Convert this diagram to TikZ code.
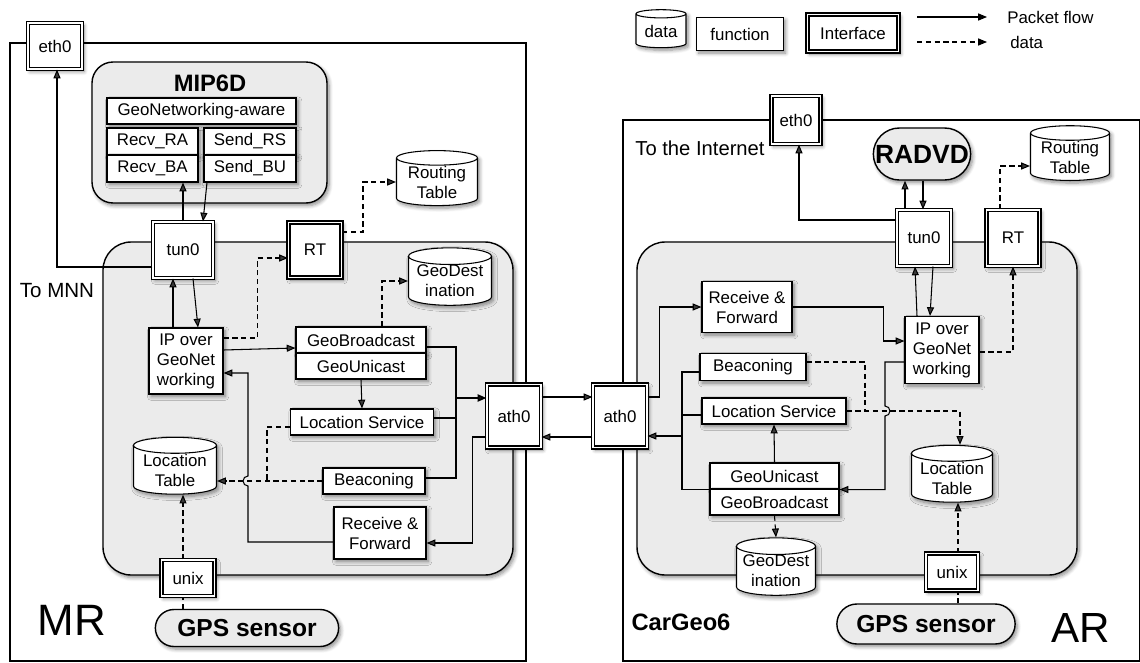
\documentclass[tikz,border=0pt]{standalone}
\usepackage{fontspec}
\setmainfont{Liberation Sans}
\usetikzlibrary{shapes.geometric,shapes.misc,shadows.blur,arrows.meta,calc}

\tikzset{
  softshadow/.style={blur shadow={shadow xshift=1.2pt,shadow yshift=-1.5pt,shadow blur steps=6,shadow opacity=45}},
  func/.style={draw, fill=white, softshadow, inner sep=0pt, align=center},
  iface/.style={draw, double, double distance=1.1pt, fill=white, softshadow, inner sep=0pt, align=center},
  dbase/.style={cylinder, shape border rotate=90, aspect=0.25, draw, fill=white, softshadow, inner sep=0pt, align=center},
  pill/.style={rounded rectangle, draw, line width=0.8pt, fill=black!8, softshadow, font=\fontsize{14}{16}\selectfont\bfseries},
  box/.style={line width=0.8pt, fill=black!8, softshadow},
  flow/.style={-{Triangle[length=5pt,width=4pt]}},
  dataline/.style={dash pattern=on 3pt off 2pt},
  dataflow/.style={flow, dataline},
}

\begin{document}
\begin{tikzpicture}[x=0.02cm, y=-0.02cm, line width=0.6pt,
  every node/.style={font=\fontsize{9.6}{11.4}\selectfont}]
  \useasboundingbox (0,0) rectangle (1140,663);

  % legend
  \node[dbase, minimum width=1cm, minimum height=0.76cm] (keyData) at (661,31) {data};
  \node[func, minimum width=1.74cm, minimum height=0.66cm] (keyFunc) at (740,34) {function};
  \node[iface, minimum width=1.82cm, minimum height=0.74cm] (keyIface) at (853,33) {Interface};
  \coordinate (keyA) at (917,17);
  \coordinate (keyB) at (987,17);
  \coordinate (keyC) at (917,42);
  \coordinate (keyD) at (987,42);
  \draw[flow] (keyA) -- (keyB);
  \draw[dataflow] (keyC) -- (keyD);
  \node[anchor=west, inner sep=1pt] (keyFlowTxt) at (1005,17) {Packet flow};
  \node[anchor=west, inner sep=1pt] (keyDataTxt) at (1008,42) {data};

  % routers and inner boxes
  \draw (10,43) rectangle (526,661);
  \draw (623,120) rectangle (1139.5,661);
  \draw[box, rounded corners=16pt] (103,242) rectangle (513,575);
  \draw[box, rounded corners=16pt] (637,242) rectangle (1077,575);
  \draw[box, rounded corners=12pt] (92,62) rectangle (327,203);

  \node[font=\fontsize{13.5}{15}\selectfont\bfseries] (mipTxt) at (210,83) {MIP6D};
  \node[font=\fontsize{11.7}{13}\selectfont] (mnnTxt) at (57,291) {To MNN};
  \node[font=\fontsize{25}{28}\selectfont] (mrTxt) at (72,620) {MR};
  \node[font=\fontsize{11.5}{13}\selectfont] (inetTxt) at (700,148) {To the Internet};
  \node[font=\fontsize{13.5}{15}\selectfont\bfseries] (carTxt) at (681,622) {CarGeo6};
  \node[font=\fontsize{24}{28}\selectfont] (arTxt) at (1081,628) {AR};

  % MR
  \node[iface, minimum width=1.08cm, minimum height=0.92cm] (ethL) at (55,46) {eth0};
  \node[func, minimum width=3.78cm, minimum height=0.52cm] (gnAware) at (201.5,111) {GeoNetworking-aware};
  \node[func, minimum width=1.82cm, minimum height=0.54cm] (recvRA) at (152.5,141.5) {Recv\_RA};
  \node[func, minimum width=1.82cm, minimum height=0.54cm] (recvBA) at (152.5,168.5) {Recv\_BA};
  \node[func, minimum width=1.84cm, minimum height=0.54cm] (sendRS) at (250,141.5) {Send\_RS};
  \node[func, minimum width=1.84cm, minimum height=0.54cm] (sendBU) at (250,168.5) {Send\_BU};
  \node[iface, minimum width=1.2cm, minimum height=1.12cm] (tunL) at (183,250) {tun0};
  \node[iface, minimum width=1.06cm, minimum height=1.1cm] (rtL) at (315,250) {RT};
  \node[dbase, minimum width=1.62cm, minimum height=1.1cm] (routL) at (437,182) {Routing\\Table};
  \node[func, minimum width=1.48cm, minimum height=1.32cm] (ipL) at (186,361) {IP over\\GeoNet\\working};
  \node[func, minimum width=2.6cm, minimum height=0.52cm] (gbcL) at (361,340) {GeoBroadcast};
  \node[func, minimum width=2.6cm, minimum height=0.52cm] (gucL) at (361,366) {GeoUnicast};
  \node[dbase, minimum width=1.66cm, minimum height=1.12cm] (gdestL) at (450,281) {GeoDest\\ination};
  \node[func, minimum width=2.86cm, minimum height=0.52cm] (lsL) at (362,422) {Location Service};
  \node[func, minimum width=2.04cm, minimum height=0.52cm] (beaconL) at (374,481) {Beaconing};
  \node[func, minimum width=1.84cm, minimum height=1.04cm] (rfL) at (380,533) {Receive \&\\Forward};
  \node[dbase, minimum width=1.66cm, minimum height=1.1cm] (ltL) at (175,470) {Location\\Table};
  \node[iface, minimum width=1.08cm, minimum height=1.26cm] (athL) at (514,416) {ath0};
  \node[iface, minimum width=1.06cm, minimum height=0.72cm] (unixL) at (188,578) {unix};
  \node[pill, minimum width=3.9cm, minimum height=0.74cm] (gpsL) at (247,628) {GPS sensor};

  % AR
  \node[iface, minimum width=0.98cm, minimum height=0.96cm] (ethR) at (796,120) {eth0};
  \node[pill, font=\fontsize{15}{17}\selectfont\bfseries, minimum width=2.18cm, minimum height=1.04cm] (radvd) at (922,154) {RADVD};
  \node[dbase, minimum width=1.58cm, minimum height=1.04cm] (routR) at (1070,157) {Routing\\Table};
  \node[iface, minimum width=1.08cm, minimum height=1.12cm] (tunR) at (924,238) {tun0};
  \node[iface, minimum width=1.06cm, minimum height=1.12cm] (rtR) at (1013,238) {RT};
  \node[func, minimum width=1.48cm, minimum height=1.34cm] (ipR) at (942,350) {IP over\\GeoNet\\working};
  \node[func, minimum width=1.8cm, minimum height=1.02cm] (rfR) at (747,307) {Receive \&\\Forward};
  \node[func, minimum width=2.12cm, minimum height=0.54cm] (beaconR) at (753,367) {Beaconing};
  \node[func, minimum width=2.88cm, minimum height=0.52cm] (lsR) at (774,411) {Location Service};
  \node[func, minimum width=2.58cm, minimum height=0.52cm] (gucR) at (774.5,476) {GeoUnicast};
  \node[func, minimum width=2.58cm, minimum height=0.52cm] (gbcR) at (774.5,502) {GeoBroadcast};
  \node[dbase, minimum width=1.62cm, minimum height=1.02cm] (ltR) at (952,478) {Location\\Table};
  \node[dbase, minimum width=1.58cm, minimum height=1.12cm] (gdestR) at (776,571) {GeoDest\\ination};
  \node[iface, minimum width=1.08cm, minimum height=1.26cm] (athR) at (620,416) {ath0};
  \node[iface, minimum width=1.04cm, minimum height=0.74cm] (unixR) at (952,572) {unix};
  \node[pill, minimum width=3.8cm, minimum height=0.8cm] (gpsR) at (926,624) {GPS sensor};

  % MR connectors
  \draw[flow] (tunL.west |- 0,267) -| (ethL.south -| 57,0);
  \draw[flow] (tunL.north -| 183,0) -- (recvBA.south -| 183,0);
  \draw[flow] (sendBU.south -| 207,0) -- (tunL.north -| 203,0);
  \draw[dataflow] (rtL.east |- 0,232) -- ++(21,0) |- (routL.west);
  \draw[flow] (ipL.north -| 173,0) -- (tunL.south -| 173,0);
  \draw[flow] (tunL.south -| 193,0) -- (ipL.north -| 198,0);
  \draw[dataflow] (ipL.east |- 0,338) -- ++(34,0) |- (rtL.west |- 0,258);
  \draw[flow] (ipL.east |- 0,350) -- (gbcL.west |- 0,348);
  \draw[dataflow] (gbcL.north -| 382,0) |- (gdestL.west);
  \draw[flow] (gucL.south) -- (lsL.north);
  \coordinate (busL) at (456,398);
  \draw (gbcL.east |- 0,347) -| (busL);
  \draw (lsL.east |- 0,418) -| (busL);
  \draw (beaconL.east |- 0,478) -| (busL);
  \draw[flow, line width=1.1pt] (busL) -- (athL.west |- busL);
  \draw[flow] (athL.west |- 0,437) -- ++(-14,0) |- (rfL.east |- 0,543);
  \coordinate (hopL) at (248,481);
  \draw[flow] (rfL.west |- 0,542) -| ($(hopL)+(0,5)$) arc[start angle=270, end angle=90, radius=0.1cm] |- (ipL.east |- 0,373);
  \draw[dataline] (lsL.west |- 0,427) -| ($(hopL)+(19,0)$);
  \draw[dataflow] (beaconL.west) -- (ltL.east |- beaconL.west);
  \draw[dataline] (gpsL.north -| 183,0) -- (unixL.south -| 183,0);
  \draw[dataflow] (unixL.north -| 183,0) -- (ltL.south -| 183,0);

  % between the routers
  \draw[flow] (athL.east |- 0,397) -- (athR.west |- 0,397);
  \draw[flow] (athR.west |- 0,437) -- (athL.east |- 0,437);

  % AR connectors
  \draw[flow] (tunR.west |- 0,220) -| (ethR.south -| 799,0);
  \draw[flow] (tunR.north -| 905,0) -- (radvd.south -| 905,0);
  \draw[flow] (radvd.south -| 923,0) -- (tunR.north -| 923,0);
  \draw[dataflow] (rtR.north -| 1000,0) |- (routR.west |- 0,166);
  \draw[flow] (ipR.north -| 917,0) -- (tunR.south -| 915,0);
  \draw[flow] (tunR.south -| 933,0) -- (ipR.north -| 930,0);
  \draw[dataflow] (ipR.east |- 0,352) -| (rtR.south);
  \draw[flow] (athR.east |- 0,397) -- ++(12,0) |- (rfR.west);
  \draw[flow] (rfR.east) -- ++(91,0) |- (ipR.west |- 0,341);
  \coordinate (busR) at (682,436);
  \draw (beaconR.west |- 0,372) -| (busR);
  \draw (lsR.west |- 0,415) -| (busR);
  \draw (gucR.south west) -| (busR);
  \draw[flow] (busR) -- (athR.east |- busR);
  \draw[flow] (gucR.north) -- (lsR.south);
  \coordinate (hopR) at (885,411);
  \draw[flow] (ipR.west |- 0,362) -| ($(hopR)+(0,-5)$) arc[start angle=90, end angle=-90, radius=0.1cm] |- (gucR.south east);
  \draw[dataline] (beaconR.east |- 0,362) -| ($(hopR)+(-20,0)$);
  \draw[dataflow] (lsR.east) -| (ltR.north -| 960,0);
  \draw[dataflow] (gbcR.south) -- (gdestR.north);
  \draw[dataline] (gpsR.north -| 958,0) -- (unixR.south -| 958,0);
  \draw[dataflow] (unixR.north -| 958,0) -- (ltR.south -| 958,0);
\end{tikzpicture}
\end{document}
